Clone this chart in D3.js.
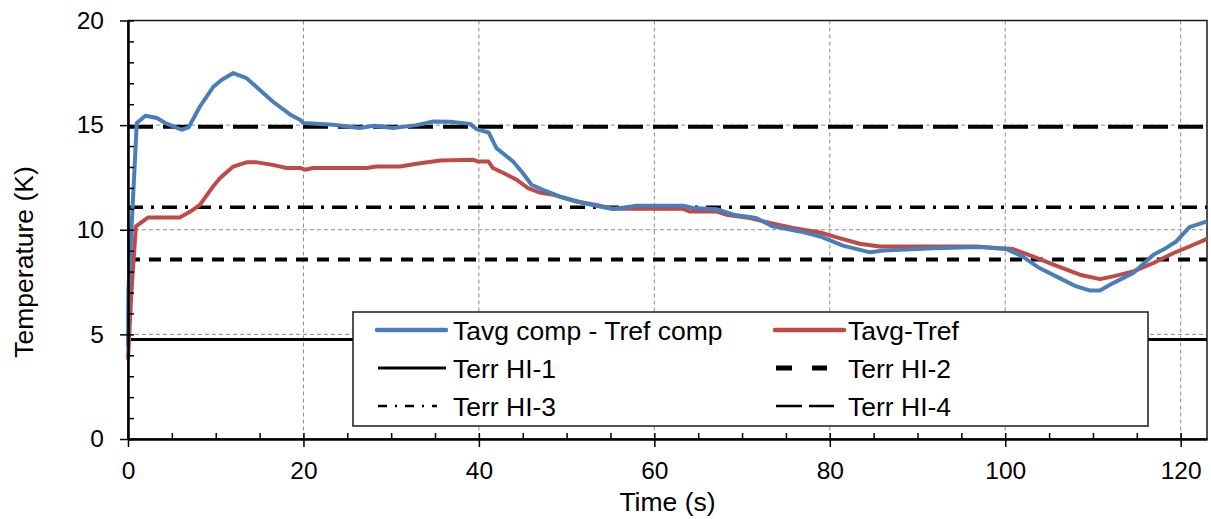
<!DOCTYPE html>
<html>
<head>
<meta charset="utf-8">
<script src="https://cdn.jsdelivr.net/npm/d3@7"></script>
<style>
  body { margin: 0; background: #fff; }
  text { font-family: "Liberation Sans", Arial, sans-serif; fill: #000; }
</style>
</head>
<body>
<svg id="chart" width="1211" height="519"></svg>
<script>
// series: Tavg comp - Tref comp
const blueTime = [0, 0.05, 1.0, 2.0, 3.3, 4.4, 6.1, 6.9, 8.2, 9.7, 10.7, 12.0, 13.5, 15.0, 16.5, 18.5, 19.6, 20, 23.4, 26.4, 28, 30.2, 32.9, 34.8, 36.7, 39, 39.7, 41.1, 42.0, 43.9, 45.0, 46.0, 47.3, 49.2, 51.9, 53.8, 55.3, 58, 60.2, 63.3, 64.4, 67.1, 69.0, 71.6, 73.5, 76.6, 78.9, 81.5, 84.6, 86.1, 88, 91.8, 97.1, 100.1, 102, 103.9, 106.2, 108.1, 109.6, 110.8, 112.3, 114.6, 116.9, 118.3, 119.5, 121, 123];
const blueVals = [4.4, 7.1, 15.1, 15.45, 15.34, 15.07, 14.78, 14.89, 15.89, 16.82, 17.17, 17.49, 17.25, 16.69, 16.13, 15.5, 15.26, 15.1, 15.02, 14.86, 14.97, 14.86, 15.0, 15.17, 15.16, 15.06, 14.81, 14.65, 13.9, 13.26, 12.71, 12.15, 11.91, 11.59, 11.28, 11.11, 10.99, 11.15, 11.15, 11.15, 11.04, 10.98, 10.72, 10.56, 10.16, 9.92, 9.68, 9.24, 8.92, 9.01, 9.04, 9.12, 9.17, 9.08, 8.72, 8.17, 7.69, 7.29, 7.1, 7.1, 7.45, 7.93, 8.81, 9.12, 9.44, 10.13, 10.4];

// series: Tavg-Tref
const redTime = [0, 0.4, 0.9, 2.3, 5.9, 7.1, 8.2, 9.7, 10.5, 12, 13.5, 14.7, 16.5, 18.1, 19.6, 20.2, 21.1, 27.2, 28.3, 31, 32.9, 35.6, 39.4, 39.9, 41.1, 41.6, 42.8, 44.3, 45.6, 46.9, 48.5, 51.1, 53.4, 55.3, 63.3, 64, 67.1, 68.2, 70.9, 73.2, 75.8, 78.9, 81.1, 83.4, 85.7, 88, 96.7, 99.4, 100.9, 103.2, 105.5, 108.5, 110.8, 112.3, 114.6, 116.9, 119.2, 121, 123];
const redVals = [3.8, 7.1, 10.16, 10.59, 10.59, 10.87, 11.19, 12.07, 12.47, 13.02, 13.22, 13.22, 13.1, 12.95, 12.95, 12.87, 12.95, 12.95, 13.02, 13.02, 13.15, 13.31, 13.34, 13.26, 13.26, 12.95, 12.71, 12.39, 11.99, 11.78, 11.67, 11.35, 11.19, 11.0, 11.0, 10.87, 10.87, 10.72, 10.56, 10.32, 10.08, 9.87, 9.6, 9.33, 9.2, 9.2, 9.2, 9.12, 9.08, 8.72, 8.33, 7.85, 7.64, 7.77, 8.01, 8.41, 8.89, 9.2, 9.56];

// limit lines
const limitNames = ["Terr HI-1", "Terr HI-2", "Terr HI-3", "Terr HI-4"];
const limitVals = [4.75, 8.58, 11.07, 14.92];

const xTicks = [0, 20, 40, 60, 80, 100, 120];
const yTicks = [0, 5, 10, 15, 20];

const svg = d3.select("#chart");
const plotLeft = 128, plotRight = 1207, plotTop = 20.5, plotBottom = 439;

const x = d3.scaleLinear().domain([0, 123]).range([plotLeft, plotRight]);
const y = d3.scaleLinear().domain([0, 20]).range([plotBottom, plotTop]);

// grid
const grid = svg.append("g").attr("class", "grid")
  .style("stroke", "#8c8c8c").style("stroke-width", 1).style("stroke-dasharray", "4,3");
grid.selectAll("line.gx").data(xTicks.filter(d => d > 0))
  .enter().append("line").attr("class", "gx")
    .attr("x1", d => x(d)).attr("x2", d => x(d))
    .attr("y1", plotTop).attr("y2", plotBottom);
grid.selectAll("line.gy").data(yTicks.filter(d => d > 0 && d < 20))
  .enter().append("line").attr("class", "gy")
    .attr("x1", plotLeft).attr("x2", plotRight)
    .attr("y1", d => y(d)).attr("y2", d => y(d));

// frame
svg.append("rect")
  .attr("x", plotLeft).attr("y", plotTop)
  .attr("width", plotRight - plotLeft).attr("height", plotBottom - plotTop)
  .style("fill", "none").style("stroke", "#1a1a1a").style("stroke-width", 1.5);

// styles for the limit lines
const limitStyles = [
  { w: 3, dash: null },
  { w: 4, dash: "12,9" },
  { w: 3.5, dash: "15,8,3,8" },
  { w: 4, dash: "25,10" }
];
// legend samples: width, dash, sample length
const legendStyles = [
  { w: 3, dash: null, len: 69 },
  { w: 5, dash: "16,20", len: 52 },
  { w: 2.5, dash: "9,8,2,8", len: 60 },
  { w: 2.5, dash: "26,7", len: 59 }
];

svg.append("g").attr("class", "limits")
  .selectAll("line").data(limitVals)
  .enter().append("line")
    .attr("x1", x(0)).attr("x2", x(123))
    .attr("y1", d => y(d)).attr("y2", d => y(d))
    .style("stroke", "#000")
    .style("stroke-width", (d, i) => limitStyles[i].w)
    .style("stroke-dasharray", (d, i) => limitStyles[i].dash);

// series
const line = d3.line().x(d => x(d[0])).y(d => y(d[1]));
const series = [
  { name: "Tavg comp - Tref comp", color: "#4a7ebb", pts: d3.zip(blueTime, blueVals) },
  { name: "Tavg-Tref", color: "#be4b48", pts: d3.zip(redTime, redVals) }
];
svg.append("g").attr("class", "series")
  .selectAll("path").data(series.slice().reverse())
  .enter().append("path")
    .attr("d", d => line(d.pts))
    .style("fill", "none")
    .style("stroke", d => d.color)
    .style("stroke-width", 4)
    .style("stroke-linejoin", "round");

// axes
const xAxis = d3.axisBottom(x).tickValues(xTicks).tickSize(8).tickPadding(15).tickSizeOuter(0);
const xMinor = d3.axisTop(x).tickValues(d3.range(0, 121, 5)).tickSize(6).tickFormat("").tickSizeOuter(0);
const yAxis = d3.axisLeft(y).tickValues(yTicks).tickSize(8).tickPadding(16).tickSizeOuter(0);
const yMinor = d3.axisRight(y).tickValues(d3.range(0, 21, 1)).tickSize(6).tickFormat("").tickSizeOuter(0);

function styleAxis(g) {
  g.selectAll("path").style("stroke", "#000").style("stroke-width", 2);
  g.selectAll("line").style("stroke", "#000").style("stroke-width", 1.5);
  g.selectAll("text").style("font-size", "24.5px").style("font-family", "'Liberation Sans', Arial, sans-serif");
}
svg.append("g").attr("transform", `translate(0,${plotBottom})`).call(xMinor).call(styleAxis);
svg.append("g").attr("transform", `translate(0,${plotBottom})`).call(xAxis).call(styleAxis);
svg.append("g").attr("transform", `translate(${plotLeft},0)`).call(yMinor).call(styleAxis);
svg.append("g").attr("transform", `translate(${plotLeft},0)`).call(yAxis).call(styleAxis);

// axis titles
svg.append("text")
  .attr("x", (plotLeft + plotRight) / 2).attr("y", 511)
  .attr("text-anchor", "middle")
  .style("font-size", "26.5px")
  .text("Time (s)");
svg.append("text")
  .attr("transform", `translate(33,262) rotate(-90)`)
  .attr("text-anchor", "middle")
  .style("font-size", "26.5px")
  .text("Temperature (K)");

// legend
const legendItems = [
  { label: series[0].name, color: series[0].color, w: 4.5, dash: null, len: 69 },
  { label: series[1].name, color: series[1].color, w: 4.5, dash: null, len: 69 }
].concat(limitNames.map((n, i) => ({ label: n, color: "#000", ...legendStyles[i] })));

const legend = svg.append("g").attr("class", "legend");
legend.append("rect")
  .attr("x", 353).attr("y", 312).attr("width", 795).attr("height", 114)
  .style("fill", "#fff").style("stroke", "#1a1a1a").style("stroke-width", 1.5);

const colX = [377, 775];
const rowY = [330, 368, 406];
const item = legend.selectAll("g.item").data(legendItems)
  .enter().append("g").attr("class", "item")
    .attr("transform", (d, i) => `translate(${colX[i % 2]},${rowY[Math.floor(i / 2)]})`);
item.append("line")
  .attr("x1", (d, i) => i >= 2 ? 1 : 0).attr("x2", d => d.len)
  .style("stroke", d => d.color)
  .style("stroke-width", d => d.w)
  .style("stroke-dasharray", d => d.dash)
  .style("stroke-linecap", (d, i) => i < 2 ? "round" : "butt");
item.append("text")
  .attr("x", (d, i) => i % 2 === 0 ? 76 : 73).attr("dy", "0.36em")
  .style("font-size", "26.5px")
  .text(d => d.label);
</script>
</body>
</html>
